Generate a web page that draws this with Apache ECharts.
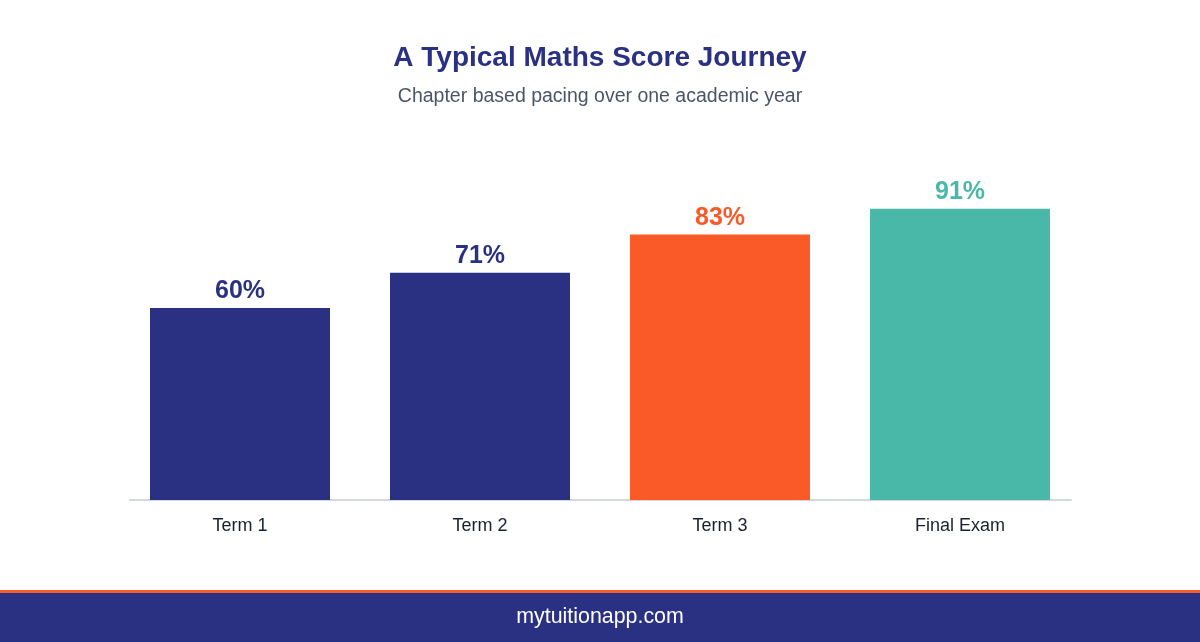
<!DOCTYPE html>
<html>
<head>
<meta charset="utf-8">
<script src="https://cdn.jsdelivr.net/npm/echarts@6/dist/echarts.min.js"></script>
<style>
html,body{margin:0;padding:0;background:#fff;}
#main{width:1200px;height:642px;}
</style>
</head>
<body>
<div id="main"></div>
<script>
const categories = ['Term 1', 'Term 2', 'Term 3', 'Final Exam'];
const scores = [60, 71, 83, 91];
const barColors = ['#2a3182', '#2a3182', '#fa5a28', '#4ab8a8'];
const titleText = 'A Typical Maths Score Journey';
const subtitleText = 'Chapter based pacing over one academic year';
const footerText = 'mytuitionapp.com';

const chart = echarts.init(document.getElementById('main'));
const FONT = 'Arial, "Liberation Sans", sans-serif';
chart.setOption({
  animation: false,
  backgroundColor: '#ffffff',
  title: {
    text: titleText,
    subtext: subtitleText,
    left: 'center',
    top: 39,
    itemGap: 15,
    textStyle: { fontFamily: FONT, fontSize: 28, fontWeight: 'bold', color: '#2a3182' },
    subtextStyle: { fontFamily: FONT, fontSize: 19.5, color: '#4a5568' }
  },
  grid: [
    { left: 120, right: 120, top: 180, bottom: 142, containLabel: false },
    { left: 130, right: 129, top: 180, bottom: 142, containLabel: false }
  ],
  xAxis: [
    {
      type: 'category',
      gridIndex: 0,
      data: categories,
      axisLine: { show: false },
      axisTick: { show: false },
      axisLabel: { fontFamily: FONT, fontSize: 18, color: '#1a202c', margin: 17 }
    },
    {
      type: 'category',
      gridIndex: 1,
      data: categories,
      axisLine: { show: true, lineStyle: { color: '#d5d7e0', width: 2 } },
      axisTick: { show: false },
      axisLabel: { show: false },
      z: 1
    }
  ],
  yAxis: [
    { type: 'value', gridIndex: 0, min: 0, max: 100, show: false },
    { type: 'value', gridIndex: 1, min: 0, max: 100, show: false }
  ],
  series: [{
    type: 'bar',
    xAxisIndex: 0,
    yAxisIndex: 0,
    z: 3,
    data: scores.map((v, i) => ({ value: v, itemStyle: { color: barColors[i] }, label: { color: barColors[i] } })),
    barWidth: 180,
    label: {
      show: true,
      position: 'top',
      distance: 4,
      formatter: '{c}%',
      fontFamily: FONT,
      fontSize: 25,
      fontWeight: 'bold'
    }
  }],
  graphic: [
    { type: 'rect', left: 0, top: 590, shape: { width: 1200, height: 3 }, style: { fill: '#fa5a28' } },
    { type: 'rect', left: 0, top: 593, shape: { width: 1200, height: 49 }, style: { fill: '#2a3182' } },
    { type: 'text', left: 'center', top: 607, style: { text: footerText, fill: '#ffffff', font: '21.4px Arial, "Liberation Sans", sans-serif' } }
  ]
});
</script>
</body>
</html>
